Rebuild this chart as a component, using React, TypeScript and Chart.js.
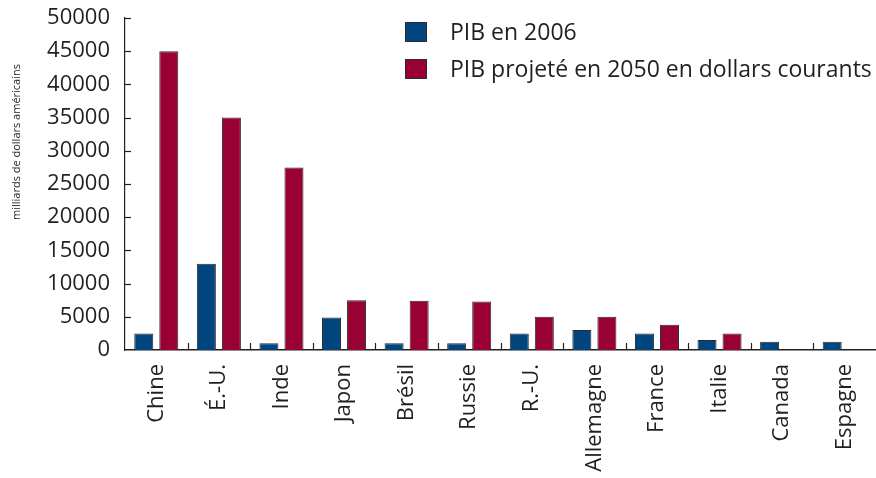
import React, { useEffect, useRef } from "react";
import { Chart, registerables } from "chart.js";

Chart.register(...registerables);

const categories = ["Chine", "É.-U.", "Inde", "Japon", "Brésil", "Russie", "R.-U.", "Allemagne", "France", "Italie", "Canada", "Espagne"];
const pib2006 = [2500, 13000, 1000, 4900, 1000, 1000, 2500, 3000, 2500, 1500, 1250, 1250];
const pib2050 = [45000, 35000, 27500, 7500, 7400, 7300, 5000, 5000, 3800, 2500, null, null];
const seriesLabels = ["PIB en 2006", "PIB projeté en 2050 en dollars courants"];
const seriesColors = ["#00457E", "#990033"];
const yTitle = "milliards de dollars américains";
const yMin = 0;
const yMax = 50000;
const yStep = 5000;

const TEXT = "#231f20";
const FONT = '"Open Sans", sans-serif';

const decor = {
  id: "decor",
  afterDraw(chart: any) {
    const { ctx, chartArea, scales } = chart;
    const x = scales.x;
    const y = scales.y;
    ctx.save();
    ctx.strokeStyle = TEXT;
    ctx.lineWidth = 1.2;
    y.ticks.forEach((t: any) => {
      if (t.value === 0) return;
      const py = Math.round(y.getPixelForValue(t.value)) + 0.5;
      ctx.beginPath();
      ctx.moveTo(chartArea.left, py);
      ctx.lineTo(chartArea.left + 6, py);
      ctx.stroke();
    });
    for (let i = 1; i < categories.length; i++) {
      const px = Math.round((x.getPixelForValue(i - 1) + x.getPixelForValue(i)) / 2) + 0.5;
      ctx.beginPath();
      ctx.moveTo(px, chartArea.bottom);
      ctx.lineTo(px, chartArea.bottom - 7);
      ctx.stroke();
    }
    ctx.save();
    ctx.translate(17, 142);
    ctx.rotate(-Math.PI / 2);
    ctx.font = "11px " + FONT;
    ctx.fillStyle = TEXT;
    ctx.textAlign = "center";
    ctx.textBaseline = "middle";
    ctx.fillText(yTitle, 0, 0);
    ctx.restore();
    const rows = [22, 59];
    chart.data.datasets.forEach((ds: any, i: number) => {
      const top = rows[i];
      ctx.fillStyle = ds.backgroundColor;
      ctx.fillRect(405, top, 22, 20);
      ctx.strokeStyle = "#2b2b2b";
      ctx.lineWidth = 1;
      ctx.strokeRect(405.5, top + 0.5, 21, 19);
      ctx.fillStyle = TEXT;
      ctx.font = "23px " + FONT;
      ctx.textAlign = "left";
      ctx.textBaseline = "middle";
      ctx.fillText(ds.label, 450, top + 11);
    });
    ctx.restore();
  },
};

export default function App() {
  const ref = useRef<HTMLCanvasElement | null>(null);
  useEffect(() => {
    if (!ref.current) return;
    Chart.defaults.font.family = FONT;
    const chart = new Chart(ref.current, {
      type: "bar",
      data: {
        labels: categories,
        datasets: [
          {
            label: seriesLabels[0],
            data: pib2006,
            backgroundColor: seriesColors[0],
            borderColor: "#2b2b2b",
            borderWidth: 1,
            categoryPercentage: 0.8,
            barPercentage: 0.76,
          },
          {
            label: seriesLabels[1],
            data: pib2050,
            backgroundColor: seriesColors[1],
            borderColor: "#2b2b2b",
            borderWidth: 1,
            categoryPercentage: 0.8,
            barPercentage: 0.76,
          },
        ],
      },
      options: {
        animation: false,
        responsive: true,
        maintainAspectRatio: false,
        layout: { padding: { top: 18, right: 0, left: 0, bottom: 0 } },
        plugins: {
          legend: { display: false },
          tooltip: { enabled: false },
        },
        scales: {
          x: {
            grid: { display: false },
            border: { display: true, color: TEXT, width: 1.5 },
            ticks: {
              color: TEXT,
              font: { size: 22, family: FONT },
              minRotation: 90,
              maxRotation: 90,
              padding: 6,
              autoSkip: false,
            },
            afterFit: (s: any) => {
              s.height = 128;
              s.paddingLeft = 0;
              s.paddingRight = 0;
            },
          },
          y: {
            min: yMin,
            max: yMax,
            grid: { display: false },
            border: { display: true, color: TEXT, width: 1.2 },
            ticks: {
              stepSize: yStep,
              color: TEXT,
              font: { size: 22, family: FONT },
              padding: 7,
              callback: (v: any) => String(v),
            },
            afterFit: (s: any) => {
              s.width = 125;
              s.paddingTop = 0;
              s.paddingBottom = 0;
            },
          },
        },
      },
      plugins: [decor],
    });
    return () => chart.destroy();
  }, []);
  return (
    <div style={{ position: "fixed", left: 0, top: 0, width: 876, height: 478 }}>
      <canvas ref={ref} />
    </div>
  );
}
